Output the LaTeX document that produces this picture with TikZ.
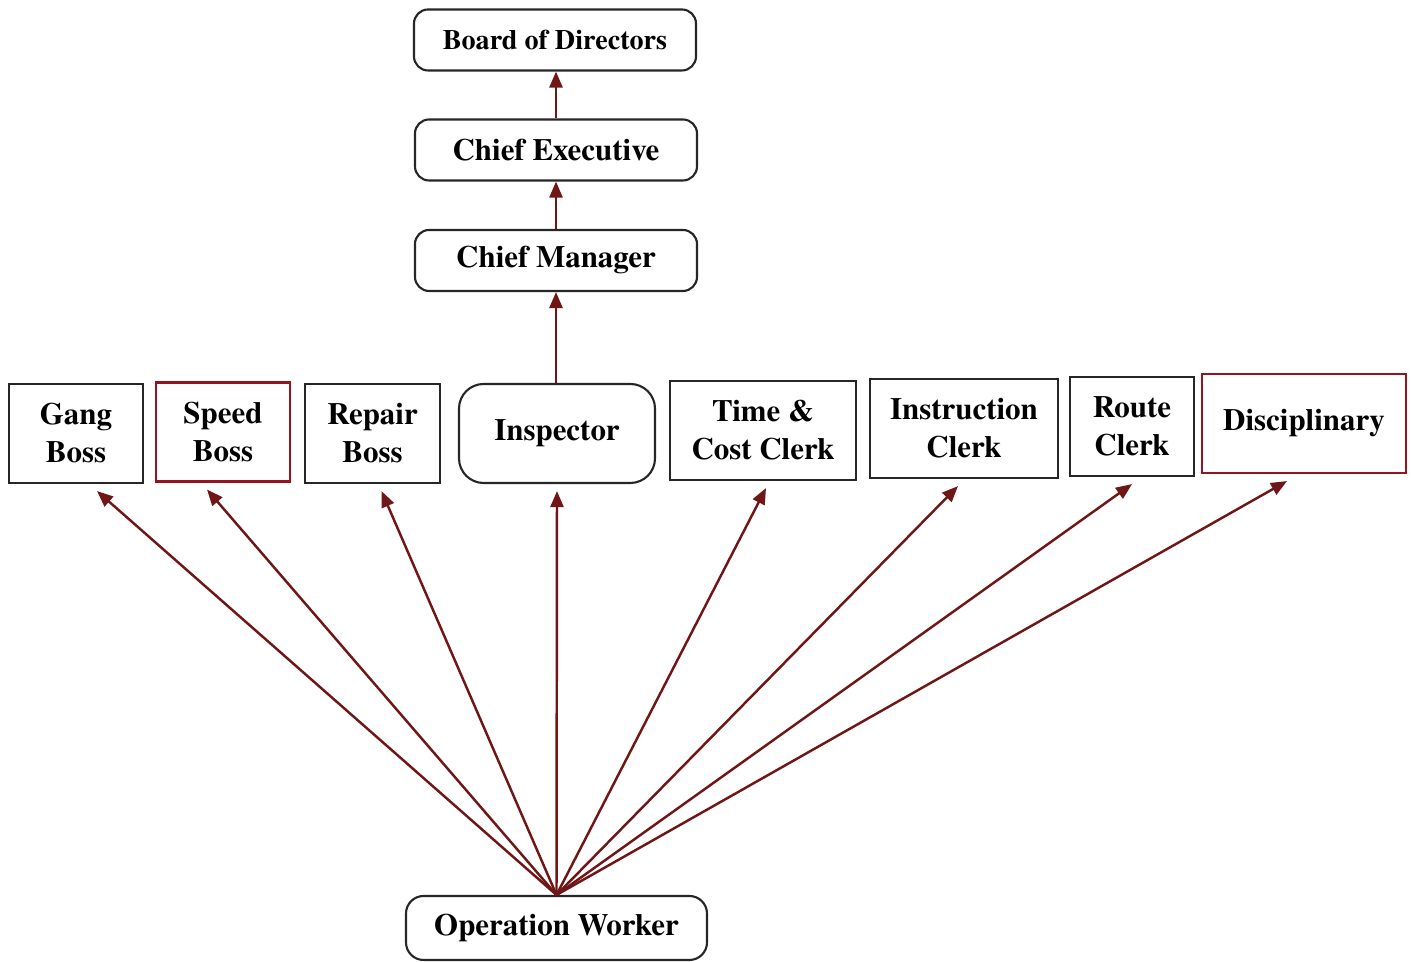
\documentclass[tikz,border=0pt]{standalone}
\usepackage{fontspec}
\setmainfont{texgyretermes}[Extension=.otf,UprightFont=*-regular,BoldFont=*-bold]
\usetikzlibrary{arrows.meta}
\definecolor{arrred}{RGB}{112,22,22}
\definecolor{boxred}{RGB}{150,20,30}

\begin{document}
\begin{tikzpicture}[font=\fontsize{8.8}{10.8}\selectfont\bfseries,
  box/.style={draw=black!85,line width=0.6pt,fill=white,align=center,inner sep=0pt,minimum height=0.99cm},
  topbox/.style={box,rounded corners=4pt,minimum width=2.82cm,minimum height=0.61cm},
  redbox/.style={box,draw=boxred},
  arr/.style={-{Triangle[length=0.16cm,width=0.13cm]},arrred,line width=0.7pt}]
\useasboundingbox (0,0) rectangle (14.11,9.62);

% top of the chain
\node[topbox,font=\fontsize{8}{10}\selectfont\bfseries] (bod) at (5.55,9.22) {Board of Directors};
\node[topbox] (ce) at (5.56,8.12) {Chief Executive};
\node[topbox] (cm) at (5.56,7.015) {Chief Manager};
% functional foremen and clerks
\node[box,minimum width=1.34cm] (gang) at (0.76,5.285) {Gang\\Boss};
\node[redbox,minimum width=1.34cm] (speed) at (2.23,5.30) {Speed\\Boss};
\node[box,minimum width=1.35cm] (repair) at (3.725,5.285) {Repair\\Boss};
\node[box,rounded corners=7pt,minimum width=1.96cm] (insp) at (5.57,5.285) {Inspector};
\node[box,minimum width=1.86cm] (time) at (7.63,5.315) {Time \&\\Cost Clerk};
\node[box,minimum width=1.88cm] (instr) at (9.64,5.335) {Instruction\\Clerk};
\node[box,minimum width=1.24cm] (route) at (11.32,5.355) {Route\\Clerk};
\node[redbox,minimum width=2.04cm] (disc) at (13.04,5.385) {Disciplinary};
% bottom
\node[topbox,rounded corners=5pt,minimum width=3.01cm,minimum height=0.64cm] (ow) at (5.565,0.34) {Operation Worker};

% reporting lines
\draw[arr] (insp.north -| cm.south) -- (cm.south);
\draw[arr] (cm.north) -- (ce.south);
\draw[arr] (ce.north) -- (ce.north |- bod.south);
\foreach \n/\dx in {gang/0.21,speed/-0.16,repair/0.09,insp/0,time/0.03,instr/-0.06,route/0,disc/-0.17}
  \draw[arr] (ow.north) -- ([xshift=\dx cm,yshift=-2pt]\n.south);
\end{tikzpicture}
\end{document}
